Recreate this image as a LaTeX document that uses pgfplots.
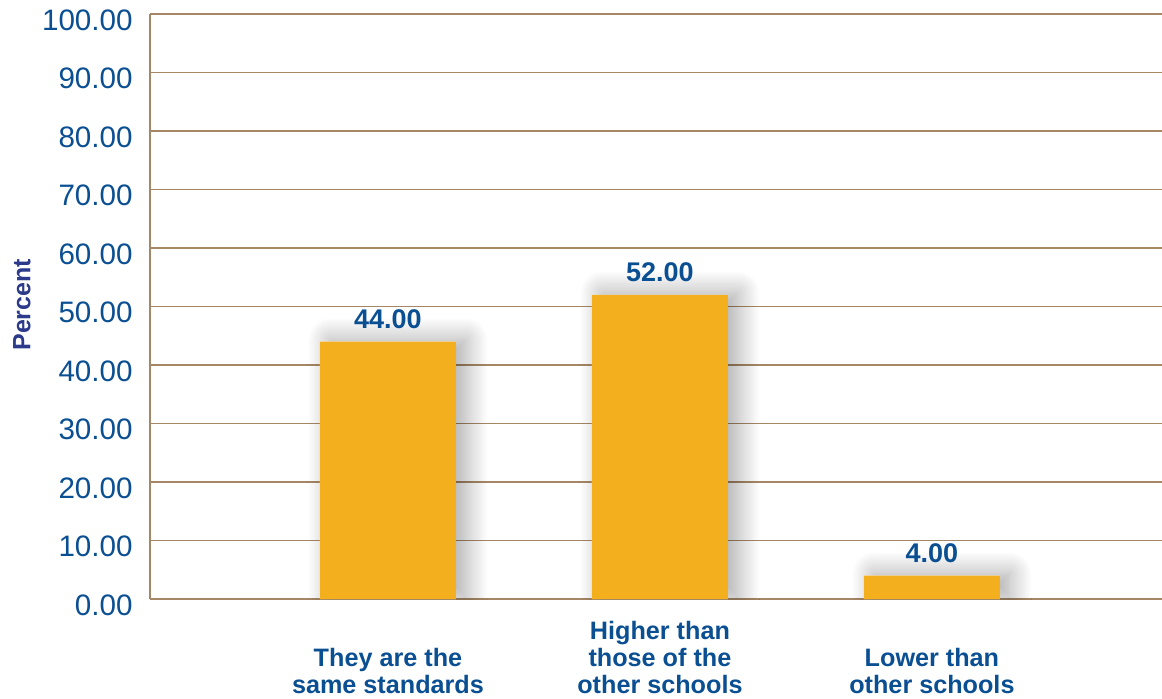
\documentclass[border=0pt]{standalone}
\usepackage{pgfplots}
\pgfplotsset{compat=1.18}
\usepackage{fontspec}
\setmainfont{Liberation Sans}
\usetikzlibrary{shadows.blur}
\definecolor{barc}{HTML}{F4AF1E}
\definecolor{txtc}{HTML}{0B4F93}
\definecolor{gridc}{HTML}{A58765}
\definecolor{labc}{HTML}{2B3A8A}
\begin{document}
\begin{tikzpicture}
\begin{axis}[
  at={(0,0)}, anchor=south west,
  scale only axis, width=506pt, height=292.5pt,
  xmin=-0.875, xmax=2.846, ymin=0, ymax=100,
  axis x line*=bottom, axis y line*=left,
  axis line style={draw=gridc, line width=0.8pt, -},
  ymajorgrids, grid style={draw=gridc, line width=0.8pt},
  ytick={0,10,...,100},
  major tick length=0pt,
  yticklabel style={font=\fontsize{14.8}{17}\selectfont, text=txtc, anchor=east, inner sep=0pt, xshift=-8.5pt, yshift=-3pt},
  xtick=data,
  xticklabels={{They are the\\same standards},{Higher than\\those of the\\other schools},{Lower than\\other schools}},
  xticklabel style={font=\bfseries\fontsize{12.6}{13.5}\selectfont, text=txtc, align=center, anchor=south, inner sep=0pt, yshift=-47.5pt},
  ylabel={Percent},
  ylabel style={at={(axis description cs:-0.1265,0.503)}, anchor=center, font=\bfseries\fontsize{12.5}{14}\selectfont, text=labc},
  /pgf/number format/.cd, fixed, fixed zerofill, precision=2, assume math mode=true
]
\addplot[ybar, bar width=68pt, bar shift=0pt, fill=white, draw=none,
  blur shadow={shadow xshift=5pt, shadow yshift=1pt, shadow blur radius=11pt, shadow blur steps=20, shadow opacity=35}]
  coordinates {(0,44) (1,52) (2,4)};
\addplot[ybar, bar width=68pt, bar shift=0pt, fill=barc, draw=none,
  nodes near coords,
  nodes near coords style={font=\bfseries\fontsize{13.5}{15}\selectfont, text=txtc, anchor=base, inner sep=0pt, yshift=6.5pt}]
  coordinates {(0,44) (1,52) (2,4)};
\end{axis}
\pgfresetboundingbox
\path (-75pt,-49.5pt) rectangle (506pt,299.5pt);
\end{tikzpicture}
\end{document}
